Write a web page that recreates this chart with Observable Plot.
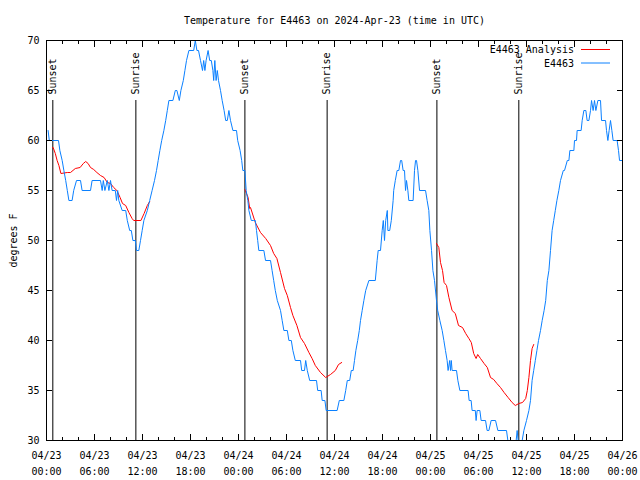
<!DOCTYPE html>
<html><head><meta charset="utf-8">
<script src="https://cdn.jsdelivr.net/npm/d3@7"></script>
<script src="https://cdn.jsdelivr.net/npm/@observablehq/plot@0.6"></script>
<style>
body{margin:0;background:#fff}
svg{font-family:"DejaVu Sans Mono",monospace}
</style>
</head><body><div id="chart"></div>
<script>
const titleText = "Temperature for E4463 on 2024-Apr-23 (time in UTC)";
const yLabel = "degrees F";
const seriesNames = ["E4463 Analysis", "E4463"];
const seriesColors = ["#ff0000", "#0a80ff"];

// hours after 2024-04-23 00:00 UTC
const eventHours = [0.79, 11.17, 24.8, 35.08, 48.8, 59.04];
const eventLabels = ["Sunset", "Sunrise", "Sunset", "Sunrise", "Sunset", "Sunrise"];

const obsHours = [0.2,0.35,1.5,1.67,1.96,2.17,2.4,2.6,2.8,3.2,3.4,3.75,4.25,4.45,5.5,5.7,6.75,6.96,7.1,7.3,7.6,7.8,8.0,8.2,8.6,8.75,8.9,9.04,9.46,9.9,10.1,10.4,10.6,10.8,11.1,11.25,11.54,11.75,11.96,12.17,12.6,12.9,13.2,13.5,13.75,13.96,14.17,14.4,14.67,14.9,15.1,15.3,15.8,16.1,16.3,16.6,16.8,17.1,17.3,17.5,17.8,18.4,18.6,18.8,19.0,19.25,19.5,19.65,19.8,19.95,20.2,20.4,20.6,20.8,20.9,21.04,21.2,21.35,21.5,21.75,21.96,22.2,22.4,22.6,22.8,23.0,23.3,23.75,23.9,24.2,24.4,24.54,24.8,24.96,25.17,25.3,
25.6,25.9,26.1,26.25,26.4,26.54,27.17,27.38,28.0,28.2,28.4,28.6,28.85,29.25,29.46,29.67,30.1,30.3,30.6,30.8,31.1,31.75,31.9,32.25,32.4,32.6,32.9,33.75,33.9,34.33,34.46,34.8,34.96,36.33,36.6,37.17,37.4,37.6,37.9,38.1,38.33,38.5,38.67,38.9,39.1,39.25,39.46,39.67,39.9,40.3,41.1,41.33,41.46,41.75,41.96,42.1,42.25,42.4,42.6,42.67,42.9,43.1,43.33,
43.4,43.6,43.83,44.04,44.25,44.4,44.58,44.75,44.88,45.0,45.17,45.29,45.83,46.0,46.13,46.25,46.42,46.63,47.38,47.58,47.79,47.92,48.13,
48.3,48.5,48.75,48.9,49.17,49.46,49.67,49.87,50.08,
50.2,50.4,50.5,50.6,50.7,51.25,51.42,51.67,52.7,52.83,53.08,53.2,53.6,53.7,53.83,54.17,54.33,54.88,55.08,55.3,55.58,56.13,56.42,57.5,57.67,57.8,58.6,58.71,58.83,58.96,59.1,59.3,59.46,59.67,60.0,60.3,60.5,60.7,60.9,61.1,61.3,61.5,61.75,61.96,62.2,62.4,62.6,62.8,63.0,63.2,63.4,63.6,63.8,
64.04,64.25,64.6,64.75,65.1,65.3,65.42,65.92,66.0,66.25,66.33,66.83,66.96,67.17,67.42,67.58,67.8,68.0,68.13,68.33,68.5,68.67,68.92,69.25,69.38,69.88,70.0,70.17,70.33,70.5,70.67,70.83,71.33,71.5,71.63,72.0];
const obsTemps = [61,60,60,59,58,57,56,55,54,54,55,56,56,55,55,56,56,55,56,55,56,55,56,55,55,54,55,54,53,53,52,51,51,50,50,49,49,50,51,52,53,54,55,56,57,58,59,60,61,62,63,64,64,65,65,64,65,66,67,68,69,69,70,69,69,68,67,68,67,68,69,68,68,67,66,68,66,67,66,65,64,63,62,62,63,62,61,61,60,59,58,57,57,55,54,53,
52,52,52,51,50,49,49,48,48,47,46,45,44,43,42,41,41,40,40,39,38,38,37,37,38,37,36,36,35,35,34,34,33,33,34,34,35,36,36,37,37,38,39,40,41,42,43,44,45,46,46,48,49,49,51,52,50,52,53,51,51,52,54,
55,56,57,57,58,58,57,57,55,56,55,54,54,57,58,58,57,55,55,54,53,51,49,
47,46,44,43,42,41,40,39,38,
37,38,37,38,37,37,36,35,35,34,34,33,33,32,33,33,32,32,31,31,32,32,31,31,30,29,29,30,31,30,29,29,30,31,32,33,34,36,37,38,39,40,41,42,43,44,46,47,49,51,52,53,54,
55,56,57,57,58,58,59,59,60,60,61,61,62,63,63,62,62,63,64,63,64,63,64,64,62,62,61,60,61,62,61,60,60,59,58,58];

const anaHours = [0.75,0.83,1.1,1.33,1.55,1.8,2.6,3.0,3.6,4.2,4.6,4.9,5.2,5.5,5.9,6.3,6.75,7.2,7.6,8.0,8.4,8.8,9.2,9.5,9.9,10.3,10.7,10.9,11.8,12.2,12.6,12.9,
24.8,25.2,25.4,25.5,26.1,26.75,27.4,28.0,28.4,28.8,29.25,29.75,30.1,30.5,30.8,31.3,31.75,32.25,32.8,33.2,33.6,34.25,34.9,35.5,36.1,36.5,36.9,
48.75,49.04,49.25,49.5,49.7,50.0,50.3,50.7,51.1,51.5,52.0,52.4,52.8,53.1,53.4,53.7,53.9,54.25,54.7,55.1,55.5,55.9,56.3,56.75,57.2,57.7,58.2,58.6,59.04,59.5,59.9,60.1,60.3,60.5,60.7,60.9];
const anaTemps = [59.3,59.3,58.7,58.0,57.5,56.7,56.8,56.8,57.2,57.3,57.7,57.9,57.7,57.3,57.1,56.8,56.5,56.3,55.8,55.7,55.3,55.0,54.3,53.7,53.5,52.8,52.2,52.0,52.0,52.7,53.5,53.9,
55.1,54.3,53.2,53.3,51.8,50.8,50.2,49.5,48.7,48.2,46.8,45.2,44.5,43.3,42.5,41.5,40.3,39.7,38.8,38.2,37.5,36.8,36.3,36.6,37.0,37.6,37.8,
49.7,49.3,47.8,47.0,45.8,45.5,44.3,43.0,42.7,41.5,41.3,40.7,40.2,39.8,38.7,38.2,38.6,38.2,37.7,37.3,36.3,36.1,35.7,35.3,34.8,34.3,33.8,33.5,33.7,33.8,34.2,35.0,36.3,38.0,39.2,39.6];
const anaSegment = anaHours.map(h => h < 20 ? 1 : h < 45 ? 2 : 3);

const yDomain = [30, 70];
const yTicks = [30, 35, 40, 45, 50, 55, 60, 65, 70];
const xSpanHours = 72;
const majorStepHours = 6;
const minorStepHours = 2;

const startUTC = Date.UTC(2024, 3, 23);
const toDate = h => new Date(startUTC + h * 3600e3);
const majorTicks = d3.range(0, xSpanHours + 0.01, majorStepHours).map(toDate);
const minorTicks = d3.range(0, xSpanHours + 0.01, minorStepHours).map(toDate);

const obs = obsHours.map((h, i) => ({t: toDate(h), v: obsTemps[i]}));
const ana = anaHours.map((h, i) => ({t: toDate(h), v: anaTemps[i], s: anaSegment[i]}));
const events = eventHours.map((h, i) => ({t: toDate(h), label: eventLabels[i]}));
const ruleTop = yDomain[0] + 0.85 * (yDomain[1] - yDomain[0]);
const fmt = d3.utcFormat("%m/%d\n%H:%M");
const blank = () => "";

const chart = Plot.plot({
  width: 640, height: 480,
  marginLeft: 46, marginRight: 18, marginTop: 40, marginBottom: 40,
  style: {fontFamily: "DejaVu Sans Mono", fontSize: "10px", background: "#fff", color: "#000"},
  x: {type: "utc", domain: [toDate(0), toDate(xSpanHours)]},
  y: {domain: yDomain},
  marks: [
    Plot.ruleX(events, {x: "t", y1: yDomain[0], y2: ruleTop, stroke: "#000", strokeWidth: 1}),
    Plot.text(events, {x: "t", y: ruleTop, text: "label", rotate: -90, textAnchor: "start", lineAnchor: "middle", dy: -6, fill: "#000"}),
    Plot.line(ana, {x: "t", y: "v", z: "s", stroke: seriesColors[0], strokeWidth: 1, clip: true}),
    Plot.line(obs, {x: "t", y: "v", stroke: seriesColors[1], strokeWidth: 1, clip: true}),
    Plot.frame({stroke: "#000"}),
    Plot.axisX({anchor: "bottom", ticks: majorTicks, tickSize: -6, tickFormat: blank, label: null}),
    Plot.axisX({anchor: "top", ticks: majorTicks, tickSize: -6, tickFormat: blank, label: null}),
    Plot.axisX({anchor: "bottom", ticks: minorTicks, tickSize: -3, tickFormat: blank, label: null}),
    Plot.axisX({anchor: "top", ticks: minorTicks, tickSize: -3, tickFormat: blank, label: null}),
    Plot.axisX({anchor: "bottom", ticks: majorTicks, tickSize: 0, tickPadding: 7, tickFormat: fmt, lineHeight: 1.6, label: null}),
    Plot.axisY({anchor: "left", ticks: yTicks, tickSize: -6, tickFormat: blank, label: null}),
    Plot.axisY({anchor: "right", ticks: yTicks, tickSize: -6, tickFormat: blank, label: null}),
    Plot.axisY({anchor: "left", ticks: yTicks, tickSize: 0, tickPadding: 7, label: null}),
    Plot.text([yLabel], {text: d => d, frameAnchor: "left", rotate: -90, dx: -33, textAnchor: "middle", lineAnchor: "middle"}),
    Plot.text([titleText], {text: d => d, frameAnchor: "top", dy: -20, lineAnchor: "middle"})
  ]
});
document.getElementById("chart").appendChild(chart);

// legend (top-right, inside the frame)
const svg = d3.select(chart);
const lg = svg.append("g").attr("font-family", "DejaVu Sans Mono").attr("font-size", 10);
seriesNames.forEach((name, i) => {
  const y = 49.5 + i * 13.5;
  lg.append("text").attr("x", 574).attr("y", y).attr("dy", "0.35em")
    .attr("text-anchor", "end").attr("fill", "#000").text(name);
  lg.append("line").attr("x1", 581).attr("x2", 610).attr("y1", y).attr("y2", y)
    .attr("stroke", seriesColors[i]).attr("stroke-width", 1);
});
</script>
</body></html>
